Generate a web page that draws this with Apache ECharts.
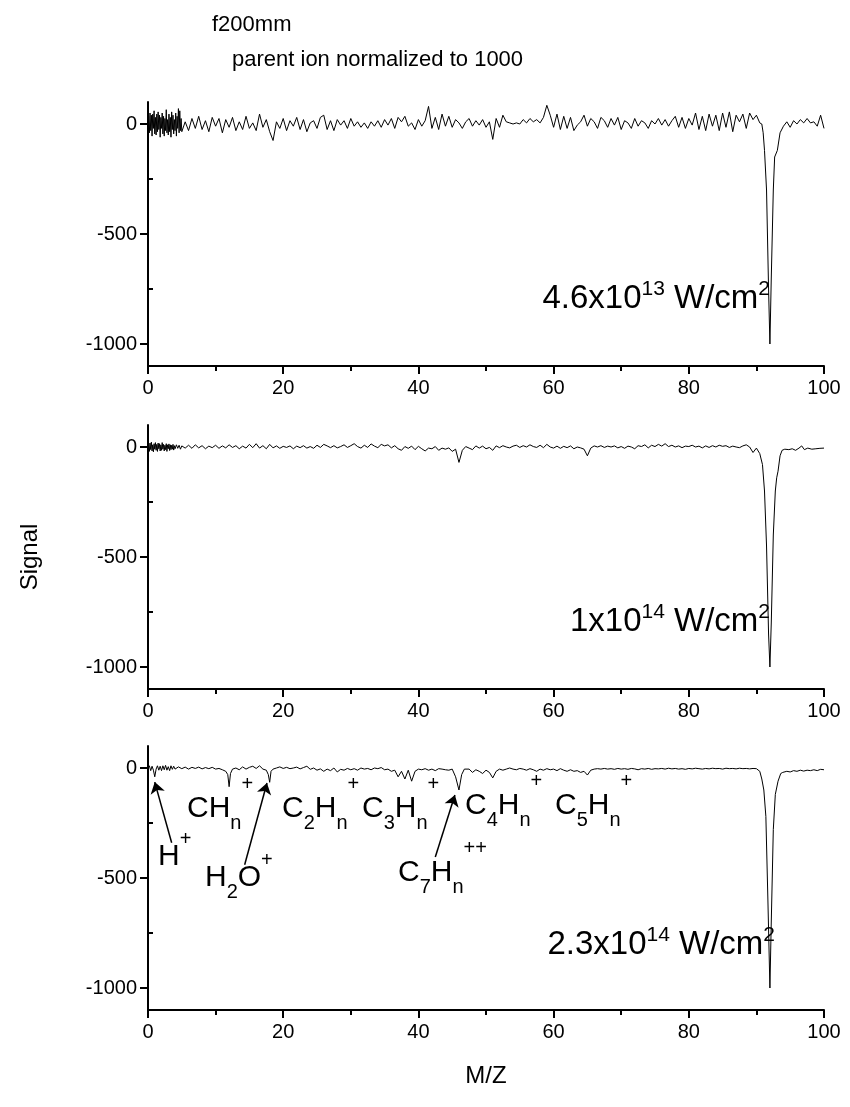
<!DOCTYPE html>
<html>
<head>
<meta charset="utf-8">
<script src="https://cdn.jsdelivr.net/npm/echarts@6/dist/echarts.min.js"></script>
<style>
  html, body { margin: 0; padding: 0; background: #fff; }
  #chart { width: 850px; height: 1107px; }
</style>
</head>
<body>
<div id="chart"></div>
<script>
// tick values
var xTicks = [0, 20, 40, 60, 80, 100]
var yMajor = [-1000, -500, 0]
var yMinor = [-750, -250]

// panel 1: 4.6x10^13 W/cm^2  [M/Z, signal]
var trace1 = [
  [0,0],[0.1,35],[0.2,-40],[0.3,50],[0.4,-30],[0.5,40],[0.6,-55],[0.7,45],[0.8,-20],[0.9,60],
  [1.0,-45],[1.1,30],[1.2,-50],[1.3,45],[1.4,-35],[1.5,55],[1.6,-25],[1.7,40],[1.8,-60],[1.9,30],
  [2.0,-20],[2.1,50],[2.2,-45],[2.3,35],[2.4,-55],[2.5,25],[2.6,-30],[2.7,65],[2.8,-40],[2.9,20],
  [3.0,-50],[3.1,45],[3.2,-35],[3.3,30],[3.4,-60],[3.5,55],[3.6,-25],[3.7,40],[3.8,-45],[3.9,20],
  [4.0,-30],[4.1,50],[4.2,-55],[4.3,35],[4.4,-20],[4.5,70],[4.6,-40],[4.7,60],[4.8,-30],[4.9,25],
  [5.0,-35],[5.5,10],[6,-30],[6.5,25],[7,-20],[7.5,35],[8,-25],[8.5,15],[9,-35],[9.5,30],
  [10,-10],[10.5,25],[11,-40],[11.5,20],[12,-15],[12.5,30],[13,-30],[13.5,10],[14,-25],[14.5,35],
  [15,-20],[15.5,5],[16,-30],[16.5,45],[17,-15],[17.5,20],[18,-35],[18.5,-75],[19,10],[19.5,-20],
  [20,25],[20.5,-30],[21,15],[21.5,-10],[22,30],[22.5,-25],[23,20],[23.5,-35],[24,5],[24.5,15],
  [25,-20],[25.5,30],[26,40],[26.5,-25],[27,15],[27.5,-30],[28,20],[28.5,-5],[29,15],[29.5,-20],
  [30,25],[30.5,-10],[31,10],[31.5,-15],[32,5],[32.5,-20],[33,10],[33.5,-10],[34,15],[34.5,-15],
  [35,20],[35.5,-5],[36,25],[36.5,-20],[37,30],[37.5,10],[38,35],[38.5,-10],[39,5],[39.5,-25],
  [40,20],[40.5,-10],[41,15],[41.5,80],[42,-20],[42.5,30],[43,-25],[43.5,45],[44,-10],[44.5,35],
  [45,-15],[45.5,20],[46,5],[46.5,-20],[47,10],[47.5,25],[48,-10],[48.5,15],[49,-5],[49.5,20],
  [50,-15],[50.5,10],[51,-70],[51.5,25],[52,-15],[52.5,40],[53,10],[53.5,5],[54,0],[54.5,5],
  [55,0],[55.5,20],[56,5],[56.5,25],[57,10],[57.5,20],[58,5],[58.5,30],[59,85],[59.5,40],
  [60,-15],[60.5,45],[61,-25],[61.5,35],[62,-20],[62.5,30],[63,-30],[63.5,-5],[64,10],[64.5,40],
  [65,-10],[65.5,25],[66,10],[66.5,-20],[67,30],[67.5,15],[68,-15],[68.5,25],[69,-5],[69.5,30],
  [70,-25],[70.5,15],[71,5],[71.5,-20],[72,25],[72.5,-10],[73,15],[73.5,5],[74,-20],[74.5,15],
  [75,0],[75.5,25],[76,-5],[76.5,20],[77,-10],[77.5,15],[78,35],[78.5,-15],[79,30],[79.5,-20],
  [80,25],[80.5,-5],[81,50],[81.5,-25],[82,35],[82.5,-30],[83,45],[83.5,-10],[84,40],[84.5,-30],
  [85,50],[85.5,-15],[86,55],[86.5,-35],[87,40],[87.5,10],[88,45],[88.5,-20],[89,50],[89.5,20],
  [90,40],[90.5,5],[90.8,0],[91.0,-40],[91.2,-120],[91.5,-300],[91.8,-750],[92.0,-1000],[92.2,-700],[92.5,-300],
  [92.7,-150],[93.1,-120],[93.5,-40],[94,-10],[94.5,10],[95,-15],[95.5,15],[96,0],[96.5,20],[97,5],
  [97.5,25],[98,5],[98.5,10],[99,-10],[99.5,40],[100,-20]
]

// panel 2: 1x10^14 W/cm^2
var trace2 = [
  [0,0],[0.1,15],[0.2,-20],[0.3,18],[0.4,-12],[0.5,22],[0.6,-18],[0.7,10],[0.8,-22],[0.9,15],
  [1.0,-10],[1.1,20],[1.2,-15],[1.3,12],[1.4,-20],[1.5,18],[1.6,-8],[1.7,15],[1.8,-18],[1.9,10],
  [2.0,-15],[2.1,20],[2.2,-10],[2.3,12],[2.4,-18],[2.5,8],[2.6,-12],[2.7,15],[2.8,-20],[2.9,10],
  [3.0,-8],[3.1,14],[3.2,-16],[3.3,10],[3.4,-12],[3.5,8],[3.6,-10],[3.7,12],[3.8,-14],[3.9,6],
  [4.0,-8],[4.2,10],[4.4,-6],[4.6,8],[4.8,-10],[5.0,5],[5.5,-5],[6,8],[6.5,-6],[7,10],
  [7.5,-4],[8,6],[8.5,-8],[9,4],[9.5,-3],[10,8],[10.5,-6],[11,5],[11.5,-4],[12,10],
  [12.5,-2],[13,6],[13.5,-8],[14,4],[14.5,-5],[15,12],[15.5,-3],[16,15],[16.5,-5],[17,6],
  [17.5,-8],[18,12],[18.5,-4],[19,5],[19.5,-6],[20,3],[20.5,-2],[21,5],[21.5,-8],[22,4],
  [22.5,-3],[23,6],[23.5,-5],[24,2],[24.5,-6],[25,8],[25.5,-2],[26,12],[26.5,5],[27,-3],
  [27.5,6],[28,-4],[28.5,2],[29,10],[29.5,-2],[30,6],[30.5,15],[31,2],[31.5,-5],[32,8],
  [32.5,-2],[33,14],[33.5,4],[34,-3],[34.5,12],[35,5],[35.5,10],[36,-4],[36.5,6],[37,-8],
  [37.5,-15],[38,2],[38.5,-6],[39,4],[39.5,-12],[40,3],[40.5,-8],[41,-18],[41.5,-5],[42,-8],
  [42.5,2],[43,-15],[43.5,-5],[44,-10],[44.5,-4],[45,-20],[45.5,-10],[46,-70],[46.5,-15],[47,2],
  [47.5,-5],[48,-12],[48.5,5],[49,-5],[49.5,4],[50,-8],[50.5,-2],[51,-15],[51.5,5],[52,-3],
  [52.5,6],[53,0],[53.5,-4],[54,4],[54.5,8],[55,-2],[55.5,6],[56,0],[56.5,10],[57,2],
  [57.5,-2],[58,8],[58.5,-3],[59,12],[59.5,0],[60,-5],[60.5,4],[61,-6],[61.5,3],[62,-3],
  [62.5,5],[63,-8],[63.5,0],[64,-4],[64.5,-10],[65,-40],[65.5,-5],[66,5],[66.5,0],[67,6],
  [67.5,-2],[68,4],[68.5,0],[69,5],[69.5,-4],[70,2],[70.5,-6],[71,4],[71.5,0],[72,-8],
  [72.5,6],[73,2],[73.5,10],[74,-4],[74.5,8],[75,2],[75.5,12],[76,4],[76.5,15],[77,2],
  [77.5,8],[78,0],[78.5,5],[79,-3],[79.5,4],[80,2],[80.5,8],[81,0],[81.5,4],[82,-4],
  [82.5,5],[83,-2],[83.5,6],[84,0],[84.5,8],[85,3],[85.5,6],[86,-2],[86.5,4],[87,0],
  [87.5,-3],[88,5],[88.5,10],[89,0],[89.5,-25],[90,-5],[90.5,-30],[90.9,-80],[91.2,-200],[91.5,-450],
  [91.8,-850],[92.0,-1000],[92.2,-800],[92.5,-400],[92.8,-200],[93.0,-140],[93.2,-110],[93.5,-40],[93.8,-15],[94.2,-10],
  [94.8,-12],[95.3,-8],[95.8,-15],[96.3,-5],[96.7,5],[97.1,-12],[97.6,-5],[98.2,-10],[98.8,-8],[99.4,-6],
  [100,-5]
]

// panel 3: 2.3x10^14 W/cm^2
var trace3 = [
  [0,0],[0.2,10],[0.4,-12],[0.6,8],[0.8,-10],[1.0,-40],[1.2,-5],[1.4,10],[1.6,-10],[1.8,8],
  [2.0,-12],[2.2,10],[2.4,-8],[2.6,12],[2.8,-10],[3.0,6],[3.2,-12],[3.4,10],[3.6,-6],[3.8,8],
  [4.0,-5],[4.5,5],[5,-3],[5.5,4],[6,-5],[6.5,3],[7,-2],[7.5,4],[8,-4],[8.5,2],
  [9,-3],[9.5,3],[10,-5],[10.5,-2],[11,-8],[11.5,-15],[11.8,-30],[12.0,-85],[12.2,-25],[12.5,-5],
  [13,0],[13.5,-8],[14,5],[14.5,-5],[15,3],[15.5,8],[16,-2],[16.5,10],[17,-5],[17.5,-10],
  [17.8,-30],[18.0,-65],[18.2,-15],[18.5,-5],[19,0],[19.5,5],[20,-2],[20.5,3],[21,-3],[21.5,0],
  [22,4],[22.5,-4],[23,2],[23.5,8],[24,-6],[24.5,0],[25,-10],[25.5,-4],[26,-15],[26.5,-5],
  [27,-12],[27.5,0],[28,-18],[28.5,-6],[29,-10],[29.5,-2],[30,-8],[30.5,-3],[31,-10],[31.5,0],
  [32,-5],[32.5,-2],[33,-8],[33.5,0],[34,-3],[34.5,2],[35,-8],[35.5,-5],[36,-15],[36.5,-10],
  [37,-40],[37.5,-15],[38,-50],[38.5,-10],[39,-60],[39.5,-15],[40,-5],[40.5,-8],[41,-3],[41.5,-10],
  [42,-5],[42.5,-12],[43,-3],[43.5,-5],[44,-8],[44.5,-10],[45,-5],[45.5,-40],[46,-100],[46.4,-30],
  [46.8,-5],[47,-10],[47.5,-5],[48,-20],[48.5,-8],[49,-15],[49.5,-25],[50,-10],[50.5,-20],[51,-45],
  [51.5,-15],[52,-5],[52.5,-10],[53,-5],[53.5,0],[54,-5],[54.5,-8],[55,-2],[55.5,-5],[56,-10],
  [56.5,-3],[57,-8],[57.5,-15],[58,-5],[58.5,-10],[59,-3],[59.5,-8],[60,-5],[60.5,-12],[61,-3],
  [61.5,-10],[62,-15],[62.5,-8],[63,-15],[63.5,-12],[64,-20],[64.5,-15],[65,-32],[65.5,-10],[66,-5],
  [66.5,-3],[67,-5],[67.5,-2],[68,-5],[68.5,-3],[69,-6],[69.5,-2],[70,-5],[70.5,-3],[71,-6],
  [71.5,-2],[72,-4],[72.5,-8],[73,-3],[73.5,-5],[74,-2],[74.5,-6],[75,-3],[75.5,-4],[76,-2],
  [76.5,-5],[77,-1],[77.5,-4],[78,-2],[78.5,-5],[79,-3],[79.5,-6],[80,-2],[80.5,-4],[81,-1],
  [81.5,-3],[82,-5],[82.5,-2],[83,-4],[83.5,-1],[84,-3],[84.5,-2],[85,-5],[85.5,-1],[86,-3],
  [86.5,-2],[87,-4],[87.5,-1],[88,-3],[88.5,-2],[89,-4],[89.5,-2],[90,-3],[90.5,-15],[90.8,-50],
  [91.1,-100],[91.4,-220],[91.7,-600],[92.0,-1000],[92.2,-700],[92.5,-280],[92.8,-120],[93.2,-60],[93.6,-25],[93.9,-20],
  [94.5,-15],[95,-18],[95.5,-12],[96,-15],[96.5,-10],[97,-14],[97.5,-10],[98,-12],[98.5,-8],[99,-12],
  [99.5,-6],[100,-8]
]

// annotation arrows in panel 3: [from, to] in data units
var arrows3 = [
  [[3.5, -340], [1.0, -64]],
  [[14.3, -440], [17.6, -68]],
  [[42.5, -405], [45.4, -123]]
]

var FONT = 'Liberation Sans, Arial, sans-serif'
var gridTops = [102, 425, 746]
var traces = [trace1, trace2, trace3]

var chart = echarts.init(document.getElementById('chart'))

var grids = [], xAxes = [], yAxes = [], series = []
gridTops.forEach(function(top, i) {
  grids.push({ left: 148, width: 676, top: top, height: 264 })
  xAxes.push({
    type: 'value', gridIndex: i, min: 0, max: 100, interval: 20,
    axisLine: { onZero: false, lineStyle: { color: '#000', width: 2 } },
    axisTick: { length: 8, lineStyle: { color: '#000', width: 2 } },
    minorTick: { show: true, splitNumber: 2, length: 5, lineStyle: { color: '#000', width: 2 } },
    axisLabel: { color: '#000', fontSize: 20, fontFamily: FONT, margin: 12 },
    splitLine: { show: false },
    name: i === 2 ? 'M/Z' : '',
    nameLocation: 'middle', nameGap: 54,
    nameTextStyle: { color: '#000', fontSize: 24, fontFamily: FONT }
  })
  // major ticks + labels
  yAxes.push({
    type: 'value', gridIndex: i, min: -1100, max: 100,
    axisLine: { show: true, onZero: false, lineStyle: { color: '#000', width: 2 } },
    axisTick: { show: true, customValues: yMajor, length: 8, lineStyle: { color: '#000', width: 2 } },
    axisLabel: {
      customValues: yMajor, color: '#000', fontSize: 20, fontFamily: FONT, margin: 11,
      formatter: function(v) { return String(v) }
    },
    splitLine: { show: false },
    name: i === 1 ? 'Signal' : '',
    nameLocation: 'middle', nameGap: 106,
    nameTextStyle: { color: '#000', fontSize: 24, fontFamily: FONT }
  })
  // minor ticks only
  yAxes.push({
    type: 'value', gridIndex: i, min: -1100, max: 100,
    axisLine: { show: false },
    axisTick: { show: true, customValues: yMinor, length: 5, lineStyle: { color: '#000', width: 2 } },
    axisLabel: { show: false },
    splitLine: { show: false }
  })
  var s = {
    type: 'line', xAxisIndex: i, yAxisIndex: i * 2,
    data: traces[i], showSymbol: false, symbol: 'none',
    lineStyle: { color: '#000', width: 1 },
    silent: true
  }
  if (i === 2) {
    s.markLine = {
      silent: true, symbol: ['none', 'arrow'], symbolSize: 11,
      label: { show: false },
      lineStyle: { color: '#000', width: 1.5, type: 'solid' },
      data: arrows3.map(function(a) { return [{ coord: a[0] }, { coord: a[1] }] })
    }
  }
  series.push(s)
})

// rich text: line is 80px tall, letters sit in the middle,
// the charge hangs from the top (padding pushes it down a bit),
// the subscript sits on the bottom (padding lifts it)
var rich = {
  b: { fontSize: 30, fontFamily: FONT, color: '#000', lineHeight: 80, verticalAlign: 'middle' },
  sub: { fontSize: 20, fontFamily: FONT, color: '#000', height: 20, padding: [0, 0, 16, 0], verticalAlign: 'bottom' },
  sup: { fontSize: 20, fontFamily: FONT, color: '#000', height: 20, padding: [5, 0, 0, 0], verticalAlign: 'top' },
  // lower charge for H+ and H2O+
  sup2: { fontSize: 20, fontFamily: FONT, color: '#000', height: 20, padding: [12, 0, 0, 0], verticalAlign: 'top' },
  // intensity labels
  w: { fontSize: 33, fontFamily: FONT, color: '#000', lineHeight: 40, verticalAlign: 'middle' },
  e: { fontSize: 21, fontFamily: FONT, color: '#000', lineHeight: 20, verticalAlign: 'top' }
}

function label(text, x, y, align) {
  return {
    type: 'text', x: x, y: y, silent: true,
    style: { text: text, rich: rich, align: align || 'left', verticalAlign: 'middle', fill: '#000' }
  }
}

chart.setOption({
  animation: false,
  grid: grids,
  xAxis: xAxes,
  yAxis: yAxes,
  series: series,
  graphic: [
    { type: 'text', x: 212, y: 25, style: { text: 'f200mm', font: '22px ' + FONT, fill: '#000', verticalAlign: 'middle' } },
    { type: 'text', x: 232, y: 60, style: { text: 'parent ion normalized to 1000', font: '22px ' + FONT, fill: '#000', verticalAlign: 'middle' } },
    label('{w|4.6x10}{e|13}{w| W/cm}{e|2}', 770, 299, 'right'),
    label('{w|1x10}{e|14}{w| W/cm}{e|2}', 770, 622, 'right'),
    label('{w|2.3x10}{e|14}{w| W/cm}{e|2}', 775, 945, 'right'),
    label('{b|H}{sup2|+}', 158, 857),
    label('{b|CH}{sub|n}{sup|+}', 187, 809),
    label('{b|C}{sub|2}{b|H}{sub|n}{sup|+}', 282, 809),
    label('{b|C}{sub|3}{b|H}{sub|n}{sup|+}', 362, 809),
    label('{b|H}{sub|2}{b|O}{sup2|+}', 205, 878),
    label('{b|C}{sub|7}{b|H}{sub|n}{sup|++}', 398, 873),
    label('{b|C}{sub|4}{b|H}{sub|n}{sup|+}', 465, 806),
    label('{b|C}{sub|5}{b|H}{sub|n}{sup|+}', 555, 806)
  ]
})
</script>
</body>
</html>
